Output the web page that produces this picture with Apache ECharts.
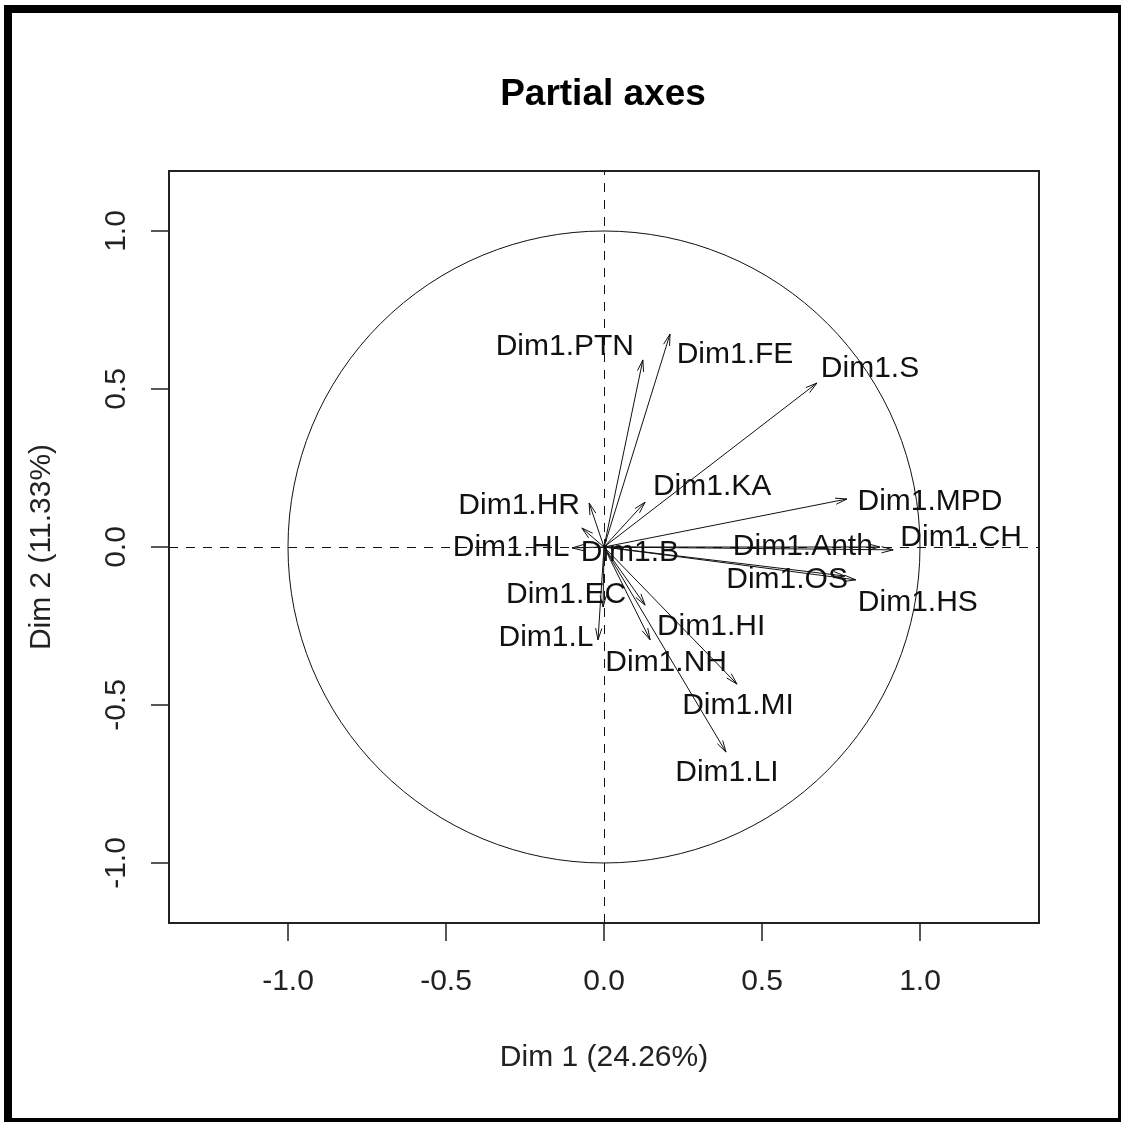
<!DOCTYPE html>
<html>
<head>
<meta charset="utf-8">
<title>Partial axes</title>
<script src="https://cdn.jsdelivr.net/npm/echarts@6/dist/echarts.min.js"></script>
<style>
  html, body { margin: 0; padding: 0; background: #fff; }
  #chart { width: 1121px; height: 1122px; }
</style>
</head>
<body>
<div id="chart"></div>
<script>
// Partial axes: coordinates of each group's first dimension on the MFA plane
const variables = ['Dim1.PTN', 'Dim1.FE', 'Dim1.S', 'Dim1.KA', 'Dim1.HR', 'Dim1.HL',
  'Dim1.B', 'Dim1.MPD', 'Dim1.Anth', 'Dim1.CH', 'Dim1.OS', 'Dim1.HS',
  'Dim1.EC', 'Dim1.L', 'Dim1.HI', 'Dim1.NH', 'Dim1.MI', 'Dim1.LI'];
const dim1 = [0.123, 0.209, 0.674, 0.130, -0.047, -0.101,
  -0.070, 0.769, 0.873, 0.915, 0.763, 0.797,
  -0.003, -0.019, 0.130, 0.146, 0.421, 0.386];
const dim2 = [0.592, 0.674, 0.519, 0.142, 0.139, -0.003,
  0.060, 0.152, 0.000, -0.009, -0.092, -0.104,
  -0.190, -0.294, -0.184, -0.294, -0.434, -0.649];

const tickValues = [-1, -0.5, 0, 0.5, 1];
const tickLabels = ['-1.0', '-0.5', '0.0', '0.5', '1.0'];

// Label placement: pixel offset of each label centre from its arrow tip
const labelOffsets = [[-78, -13], [65, 21], [53, -14], [67, -15], [-70, 3], [-61, 0],
  [48, 25], [83, 3], [-77, 0], [68, -12], [-58, 4], [62, 23],
  [-37, -12], [-52, -2], [66, 22], [16, 23], [1, 22], [1, 21]];

const FONT = '"Liberation Sans", Arial, Helvetica, sans-serif';
const INK = '#111';

const chart = echarts.init(document.getElementById('chart'), null, { renderer: 'canvas' });

const arrowData = variables.map((name, i) => [dim1[i], dim2[i], i]);

function renderArrow(params, api) {
  const i = api.value(2);
  const o = api.coord([0, 0]);
  const t = api.coord([api.value(0), api.value(1)]);
  const ang = Math.atan2(t[1] - o[1], t[0] - o[0]);
  const headLen = 12;
  const spread = 15 * Math.PI / 180;
  const h1 = [t[0] - headLen * Math.cos(ang - spread), t[1] - headLen * Math.sin(ang - spread)];
  const h2 = [t[0] - headLen * Math.cos(ang + spread), t[1] - headLen * Math.sin(ang + spread)];
  const lineStyle = { stroke: INK, lineWidth: 1, fill: null };
  const off = labelOffsets[i];
  return {
    type: 'group',
    children: [
      { type: 'line', shape: { x1: o[0], y1: o[1], x2: t[0], y2: t[1] }, style: lineStyle },
      { type: 'polyline', shape: { points: [h1, t, h2] }, style: lineStyle },
      {
        type: 'text', x: t[0] + off[0], y: t[1] + off[1],
        style: {
          text: variables[i], fill: INK, fontSize: 30, fontFamily: FONT,
          align: 'center', verticalAlign: 'middle'
        }
      }
    ]
  };
}

function renderCircle(params, api) {
  const c = api.coord([0, 0]);
  const r = api.size([1, 1])[0];
  return {
    type: 'circle',
    shape: { cx: c[0], cy: c[1], r: r },
    style: { fill: 'none', stroke: INK, lineWidth: 1 }
  };
}

const tickFmt = v => {
  const k = tickValues.indexOf(Math.round(v * 10) / 10);
  return k >= 0 ? tickLabels[k] : '';
};

const option = {
  backgroundColor: '#fff',
  animation: false,
  grid: {
    left: 169, top: 171, width: 870, height: 752,
    show: true, borderColor: '#222', borderWidth: 2, backgroundColor: 'transparent'
  },
  xAxis: {
    type: 'value', min: -1.3766, max: 1.3766, position: 'bottom',
    splitLine: { show: false },
    axisLine: { show: false, onZero: false },
    axisTick: { show: true, length: 18, customValues: tickValues, lineStyle: { color: '#222', width: 1.5 } },
    axisLabel: { customValues: tickValues, formatter: tickFmt, fontSize: 30, fontFamily: FONT, color: '#222', margin: 44 },
    name: 'Dim 1 (24.26%)', nameLocation: 'middle', nameGap: 120,
    nameTextStyle: { fontSize: 30, fontFamily: FONT, color: '#222' }
  },
  yAxis: {
    type: 'value', min: -1.1899, max: 1.1899, position: 'left',
    splitLine: { show: false },
    axisLine: { show: false, onZero: false },
    axisTick: { show: true, length: 18, customValues: tickValues, lineStyle: { color: '#222', width: 1.5 } },
    axisLabel: { customValues: tickValues, formatter: tickFmt, rotate: 90, fontSize: 30, fontFamily: FONT, color: '#222', margin: 37 },
    name: 'Dim 2 (11.33%)', nameLocation: 'middle', nameGap: 112, nameRotate: 90,
    nameTextStyle: { fontSize: 30, fontFamily: FONT, color: '#222' }
  },
  graphic: [
    {
      type: 'text', x: 603, y: 95,
      style: {
        text: 'Partial axes', fontSize: 37, fontWeight: 'bold', fontFamily: FONT, fill: '#000',
        align: 'center', verticalAlign: 'middle'
      },
      z: 10
    },
    // outer frame
    { type: 'rect', shape: { x: 4, y: 5, width: 8, height: 1117 }, style: { fill: '#000' } },
    { type: 'rect', shape: { x: 4, y: 5, width: 1117, height: 8 }, style: { fill: '#000' } },
    { type: 'rect', shape: { x: 1118, y: 5, width: 3, height: 1117 }, style: { fill: '#000' } },
    { type: 'rect', shape: { x: 4, y: 1118, width: 1117, height: 4 }, style: { fill: '#000' } }
  ],
  series: [
    {
      type: 'custom', name: 'circle', data: [[0, 0]],
      renderItem: renderCircle, silent: true, clip: false,
      markLine: {
        silent: true, symbol: ['none', 'none'], label: { show: false },
        lineStyle: { type: [9, 8], color: INK, width: 1 },
        data: [{ xAxis: 0 }, { yAxis: 0 }]
      }
    },
    {
      type: 'custom', name: 'partial axes', data: arrowData,
      encode: { x: 0, y: 1 },
      renderItem: renderArrow, silent: true, clip: false
    }
  ]
};

chart.setOption(option);
</script>
</body>
</html>
